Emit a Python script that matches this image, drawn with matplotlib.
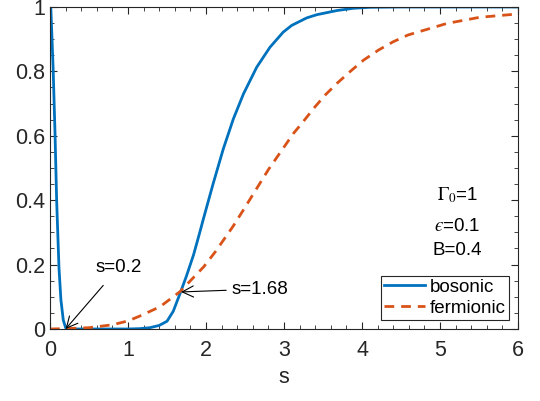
import numpy as np
import matplotlib.pyplot as plt
from matplotlib.ticker import MultipleLocator

plt.rcParams['font.family'] = ['Liberation Sans', 'DejaVu Sans']
plt.rcParams['mathtext.fontset'] = 'stix'

# values
s_bos = [0.0, 0.01, 0.04, 0.064, 0.085, 0.115, 0.14, 0.17, 0.2, 0.25, 0.6,
         1.0, 1.15, 1.28, 1.4, 1.5, 1.58, 1.667, 1.75, 1.84, 1.92, 1.97,
         2.09, 2.22, 2.35, 2.48, 2.65, 2.82, 2.99, 3.1, 3.29, 3.42, 3.68,
         3.89, 4.1, 4.5, 5.0, 6.0]
v_bos = [1.0, 1.0, 0.81, 0.61, 0.40, 0.19, 0.09, 0.028, 0.004, 0.0, 0.0,
         0.0, 0.001, 0.004, 0.011, 0.024, 0.055, 0.11, 0.165, 0.23, 0.30,
         0.345, 0.45, 0.558, 0.652, 0.73, 0.813, 0.875, 0.922, 0.943,
         0.966, 0.976, 0.989, 0.996, 0.999, 1.0, 1.0, 1.0]

s_fer = [0.0, 0.2, 0.5, 0.8, 1.0, 1.15, 1.41, 1.667, 1.97, 2.12, 2.35,
         2.48, 2.8, 3.12, 3.25, 3.38, 3.53, 3.68, 3.85, 4.02, 4.21, 4.40,
         4.59, 5.09, 5.51, 5.98]
v_fer = [0.0, 0.001, 0.004, 0.013, 0.025, 0.04, 0.069, 0.116, 0.193, 0.24,
         0.32, 0.37, 0.495, 0.607, 0.645, 0.685, 0.727, 0.763, 0.80, 0.835,
         0.866, 0.892, 0.913, 0.949, 0.968, 0.978]

params = [r'$\Gamma_0$=1', '$\u03f5$=0.1', 'B=0.4']

fig = plt.figure(figsize=(5.4, 4.01), dpi=100)
ax = fig.add_axes([0.0926, 0.1796, 0.8667, 0.803])

ax.plot(s_bos, v_bos, '-', color='#0072BD', lw=2, label='bosonic')
ax.plot(s_fer, v_fer, '--', color='#D95319', lw=2, label='fermionic',
        dashes=(3.5, 2.5))

ax.set_xlim(0, 6)
ax.set_ylim(0, 1)
ax.xaxis.set_major_locator(MultipleLocator(1))
ax.xaxis.set_minor_locator(MultipleLocator(0.2))
ax.yaxis.set_minor_locator(MultipleLocator(0.05))
ax.set_yticks([0, 0.2, 0.4, 0.6, 0.8, 1])
ax.set_yticklabels(['0', '0.2', '0.4', '0.6', '0.8', '1'])
ax.tick_params(which='both', direction='in', top=True, right=True,
               colors='#262626', labelsize=15.5)
ax.tick_params(axis='x', pad=8)
ax.tick_params(which='major', length=5)
ax.tick_params(which='minor', length=3)
for sp in ax.spines.values():
    sp.set_color('#262626')
ax.set_xlabel('s', fontsize=15.5, color='#262626', labelpad=4)

ax.annotate('s=0.2', xy=(0.2, 0.0), xytext=(0.58, 0.19), fontsize=13.5,
            va='center',
            arrowprops=dict(arrowstyle='->', color='black', lw=0.8,
                            mutation_scale=20, shrinkA=6, shrinkB=0))
ax.annotate('s=1.68', xy=(1.68, 0.115), xytext=(2.33, 0.124), fontsize=13.5,
            va='center',
            arrowprops=dict(arrowstyle='->', color='black', lw=0.8,
                            mutation_scale=20, shrinkA=2, shrinkB=0))

ys = [0.416, 0.317, 0.245]
for txt, y in zip(params, ys):
    ax.text(5.22, y, txt, fontsize=13.5, ha='center', va='center')

leg = ax.legend(loc='lower right', fontsize=13.5, frameon=True, fancybox=False,
                edgecolor='#262626', framealpha=1, borderpad=0.15,
                handlelength=2.2, handletextpad=0.25, labelspacing=0.2,
                borderaxespad=0.5)
leg.get_frame().set_linewidth(0.8)

fig.savefig('out.png', dpi=100)
